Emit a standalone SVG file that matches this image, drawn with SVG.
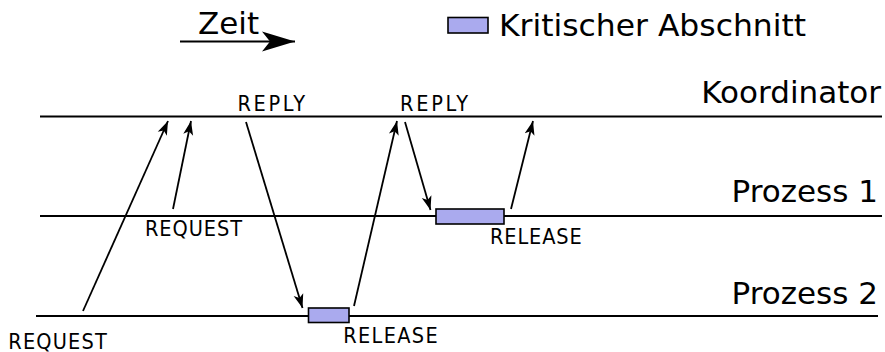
<svg xmlns="http://www.w3.org/2000/svg" width="885" height="352" viewBox="0 0 885 352">
<style>
.big{font-family:"DejaVu Sans","Liberation Sans",sans-serif;font-size:31px;fill:#000}
.lbl{font-family:"DejaVu Sans Condensed","DejaVu Sans","Liberation Sans",sans-serif;font-stretch:condensed;font-size:21.5px;fill:#000}
.tl{stroke:#000;stroke-width:2;fill:none}
.msg{stroke:#000;stroke-width:1.8;fill:none;marker-end:url(#ah)}
.cs{fill:#aaaaee;stroke:#000;stroke-width:1.6}
</style>
<defs>
<marker id="ah" markerUnits="userSpaceOnUse" markerWidth="16" markerHeight="12" refX="14" refY="6" orient="auto" viewBox="0 0 16 12">
<path d="M14,6 L0,1 L3.5,6 L0,11 z" fill="#000"/>
</marker>
<marker id="big" markerUnits="userSpaceOnUse" markerWidth="36" markerHeight="22" refX="34" refY="11" orient="auto" viewBox="0 0 36 22">
<path d="M34,11 L1,1 L9,11 L1,21 z" fill="#000"/>
</marker>
</defs>
<rect width="885" height="352" fill="#fff"/>
<g id="legend">
<g id="zeit">
<text class="big" x="198" y="34.3">Zeit</text>
<line x1="180" y1="41.5" x2="295" y2="41.5" stroke="#000" stroke-width="2" marker-end="url(#big)"/>
</g>
<g id="legend-cs">
<rect class="cs" x="448" y="17.5" width="40" height="15.5"/>
<text class="big" x="499" y="35.7" textLength="307" lengthAdjust="spacingAndGlyphs">Kritischer Abschnitt</text>
</g>
</g>
<g id="koordinator">
<line class="tl" x1="40" y1="116.5" x2="882" y2="116.5"/>
<text class="big" x="881" y="103.3" text-anchor="end">Koordinator</text>
</g>
<g id="prozess1">
<line class="tl" x1="40" y1="216" x2="882" y2="216"/>
<text class="big" x="878" y="201.7" text-anchor="end">Prozess 1</text>
<rect class="cs" x="436" y="209" width="68" height="15"/>
</g>
<g id="prozess2">
<line class="tl" x1="36" y1="316" x2="878" y2="316"/>
<text class="big" x="878" y="304" text-anchor="end">Prozess 2</text>
<rect class="cs" x="308.5" y="308" width="40.5" height="14.5"/>
</g>
<g id="connectors">
<line class="msg" x1="83" y1="311" x2="168" y2="121"/>
<line class="msg" x1="173" y1="209" x2="191" y2="121"/>
<line class="msg" x1="246" y1="122" x2="302.5" y2="308"/>
<line class="msg" x1="354" y1="306" x2="397" y2="121"/>
<line class="msg" x1="405" y1="122" x2="430.5" y2="210"/>
<line class="msg" x1="511" y1="209" x2="533" y2="121"/>
</g>
<g id="labels">
<text class="lbl" x="237.5" y="111" textLength="67.5" lengthAdjust="spacing">REPLY</text>
<text class="lbl" x="400" y="111" textLength="68" lengthAdjust="spacing">REPLY</text>
<text class="lbl" x="145" y="236" textLength="97" lengthAdjust="spacing">REQUEST</text>
<text class="lbl" x="8.3" y="348.5" textLength="98.4" lengthAdjust="spacing">REQUEST</text>
<text class="lbl" x="343.3" y="342.7" textLength="94.4" lengthAdjust="spacing">RELEASE</text>
<text class="lbl" x="490" y="244.3" textLength="91.7" lengthAdjust="spacing">RELEASE</text>
</g>
</svg>
